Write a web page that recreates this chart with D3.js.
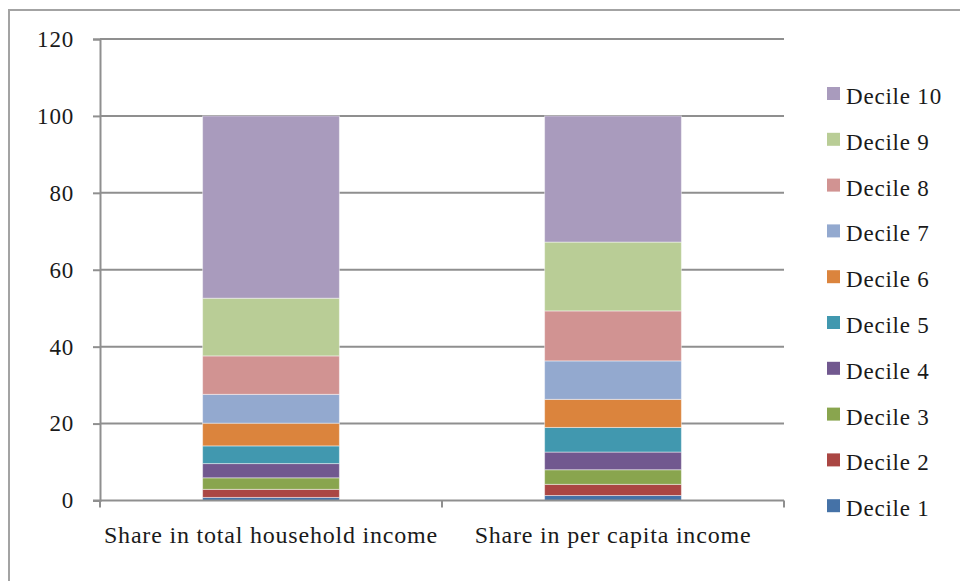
<!DOCTYPE html>
<html>
<head>
<meta charset="utf-8">
<script src="https://cdn.jsdelivr.net/npm/d3@7"></script>
<style>
  html, body { margin: 0; padding: 0; background: #fff; }
  svg { display: block; }
</style>
</head>
<body>
<svg id="chart" width="960" height="581"></svg>
<script>
// Income share by decile, two measures (percent)
const categories = ["Share in total household income", "Share in per capita income"];
const deciles = ["Decile 1", "Decile 2", "Decile 3", "Decile 4", "Decile 5",
                 "Decile 6", "Decile 7", "Decile 8", "Decile 9", "Decile 10"];
const totalHousehold = [0.8, 2.1, 3.0, 3.7, 4.6, 5.9, 7.5, 10.0, 15.0, 47.4];
const perCapita      = [1.3, 2.9, 3.8, 4.6, 6.4, 7.3, 10.0, 13.0, 17.9, 32.8];
const yTicks = [0, 20, 40, 60, 80, 100, 120];
const colors = ["#4572A7", "#AA4643", "#89A54E", "#71588F", "#4198AF",
                "#DB843D", "#93A9CF", "#D19392", "#B9CD96", "#A99BBD"];

const rows = categories.map((c, i) => {
  const vals = i === 0 ? totalHousehold : perCapita;
  const r = { category: c };
  deciles.forEach((d, j) => { r[d] = vals[j]; });
  return r;
});

const svg = d3.select("#chart");
const font = "'Liberation Serif', 'DejaVu Serif', serif";
const textColor = "#1a1a1a";
const gridColor = "#8f8f8f";

function styleText(sel, size) {
  sel.attr("font-family", font).attr("font-size", size || 23)
     .attr("letter-spacing", "0.8px").attr("fill", textColor);
}

// outer frame
svg.append("path")
  .attr("d", "M9,581 V10 H960")
  .attr("fill", "none")
  .attr("stroke", "#a3a3a3")
  .attr("stroke-width", 2);

const x = d3.scaleBand().domain(categories).range([100, 784]).padding(0);
const y = d3.scaleLinear().domain([0, 120]).range([500.5, 39]);

// horizontal gridlines
svg.append("g").selectAll("line")
  .data(yTicks.filter(t => t > 0))
  .join("line")
  .attr("x1", 100).attr("x2", 784)
  .attr("y1", d => y(d)).attr("y2", d => y(d))
  .attr("stroke", gridColor).attr("stroke-width", 2);

// y axis
const yAxis = svg.append("g")
  .attr("transform", "translate(100,0)")
  .call(d3.axisLeft(y).tickValues(yTicks).tickSize(7).tickPadding(19));
yAxis.select(".domain").attr("stroke", gridColor).attr("stroke-width", 2);
yAxis.selectAll(".tick line").attr("stroke", gridColor).attr("stroke-width", 2);
yAxis.selectAll(".tick text").call(styleText, 23);

// stacked bars
const stack = d3.stack().keys(deciles)(rows);
const barW = x.bandwidth() * 0.4;
svg.append("g").selectAll("g")
  .data(stack)
  .join("g")
  .attr("fill", (d, i) => colors[i])
  .selectAll("rect")
  .data(d => d)
  .join("rect")
  .attr("x", d => x(d.data.category) + (x.bandwidth() - barW) / 2)
  .attr("width", barW)
  .attr("y", d => y(d[1]))
  .attr("height", d => y(d[0]) - y(d[1]))
  .attr("stroke", "rgba(255,255,255,0.45)")
  .attr("stroke-width", 1);

// x axis
const xAxis = svg.append("g")
  .attr("transform", `translate(0,${y(0)})`)
  .call(d3.axisBottom(x).tickSize(0).tickPadding(34));
xAxis.select(".domain").attr("stroke", gridColor).attr("stroke-width", 2)
  .attr("d", "M93,0H784");
xAxis.selectAll(".tick text").call(styleText, 24).attr("dy", "0.35em");
// category separators
svg.append("g").selectAll("line")
  .data([100, 784].concat(categories.slice(1).map(c => x(c))))
  .join("line")
  .attr("x1", d => d).attr("x2", d => d)
  .attr("y1", y(0)).attr("y2", y(0) + 7)
  .attr("stroke", gridColor).attr("stroke-width", 2);

// legend (Decile 10 at top)
const legendItems = deciles.map((d, i) => ({ name: d, color: colors[i] })).reverse();
const legend = svg.append("g").selectAll("g")
  .data(legendItems)
  .join("g")
  .attr("transform", (d, i) => `translate(827,${87 + i * 45.8})`);
legend.append("rect")
  .attr("width", 13).attr("height", 13)
  .attr("fill", d => d.color);
legend.append("text")
  .attr("x", 19).attr("y", 17)
  .call(styleText, 23)
  .text(d => d.name);
</script>
</body>
</html>
